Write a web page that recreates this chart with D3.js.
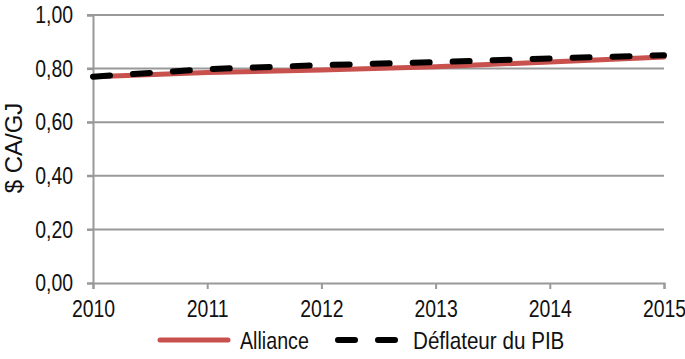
<!DOCTYPE html>
<html><head><meta charset="utf-8">
<script src="https://cdn.jsdelivr.net/npm/d3@7"></script>
<style>
body{margin:0;background:#fff;}
text{font-family:"Liberation Sans",Arial,sans-serif;fill:#111;}
</style></head>
<body><svg id="c" width="685" height="359"></svg>
<script>
const years = [2010, 2011, 2012, 2013, 2014, 2015];
const alliance = [0.770, 0.785, 0.795, 0.807, 0.825, 0.843];
const deflateur = [0.770, 0.798, 0.813, 0.824, 0.838, 0.850];
const yTicks = [0, 0.2, 0.4, 0.6, 0.8, 1.0];
const seriesNames = ["Alliance", "Déflateur du PIB"];
const yTitle = "$ CA/GJ";

const svg = d3.select("#c");
const x = d3.scaleLinear().domain([2010, 2015]).range([93, 664]);
const y = d3.scaleLinear().domain([0, 1]).range([283, 15]);
const fmt = v => d3.format(".2f")(v).replace(".", ",");
const SX = 0.81, FS = 24;
const squeeze = (sel, s) => sel.each(function(){
  const t = d3.select(this); const xx = +t.attr("x") || 0;
  t.attr("transform", `translate(${xx},0) scale(${s},1) translate(${-xx},0)`);
});

// gridlines
svg.append("g").selectAll("line").data(yTicks.filter(d => d > 0)).join("line")
  .attr("x1", x(2010) - 6).attr("x2", x(2015))
  .attr("y1", d => y(d)).attr("y2", d => y(d))
  .attr("stroke", "#999").attr("stroke-width", 2);

// y axis
const ya = svg.append("g").attr("transform", `translate(${x(2010)},0)`)
  .call(d3.axisLeft(y).tickValues(yTicks).tickFormat(fmt).tickSize(6).tickPadding(14));
ya.select(".domain").attr("stroke", "#999").attr("stroke-width", 2);
ya.selectAll(".tick line").attr("stroke", "#999").attr("stroke-width", 2);
ya.selectAll(".tick text").attr("font-size", FS).attr("fill", "#111")
  .attr("font-family", "Liberation Sans, Arial, sans-serif").call(squeeze, SX);

// x axis
const xa = svg.append("g").attr("transform", `translate(0,${y(0)})`)
  .call(d3.axisBottom(x).tickValues(years).tickFormat(d3.format("d")).tickSize(6).tickPadding(11));
xa.select(".domain").attr("stroke", "#999").attr("stroke-width", 2);
xa.selectAll(".tick line").attr("stroke", "#999").attr("stroke-width", 2);
xa.selectAll(".tick text").attr("font-size", FS).attr("fill", "#111")
  .attr("font-family", "Liberation Sans, Arial, sans-serif")
  .attr("transform", `scale(${SX},1)`);

// y title
svg.append("text").attr("transform", "translate(22,148) rotate(-90)")
  .attr("text-anchor", "middle").attr("font-size", FS).text(yTitle);

// lines
const line = d3.line().x((d, i) => x(years[i])).y(d => y(d));
svg.append("path").datum(alliance).attr("d", line).attr("fill", "none")
  .attr("stroke", "#C8504D").attr("stroke-width", 5).attr("stroke-linecap", "round");
svg.append("path").datum(deflateur).attr("d", line).attr("fill", "none")
  .attr("stroke", "#000").attr("stroke-width", 6).attr("stroke-linecap", "round")
  .attr("stroke-dasharray", "17,23");

// legend
const lg = svg.append("g");
lg.append("line").attr("x1", 160).attr("x2", 228).attr("y1", 340).attr("y2", 340)
  .attr("stroke", "#C8504D").attr("stroke-width", 5).attr("stroke-linecap", "round");
lg.append("text").attr("x", 240).attr("y", 349).attr("font-size", FS)
  .text(seriesNames[0]).call(squeeze, 0.82);
lg.append("line").attr("x1", 338).attr("x2", 395).attr("y1", 340).attr("y2", 340)
  .attr("stroke", "#000").attr("stroke-width", 6).attr("stroke-linecap", "round")
  .attr("stroke-dasharray", "17,23");
lg.append("text").attr("x", 413).attr("y", 349).attr("font-size", FS)
  .text(seriesNames[1]).call(squeeze, 0.86);
</script></body></html>
